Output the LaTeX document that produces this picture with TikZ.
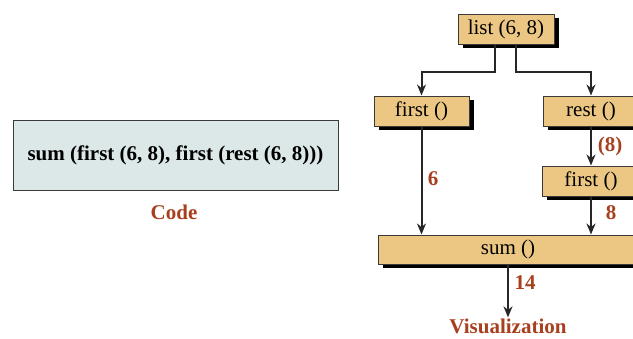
\documentclass[tikz,border=0pt]{standalone}
\usepackage{fontspec}
\setmainfont{Liberation Serif}
\usetikzlibrary{arrows.meta,shadows}
\definecolor{boxtan}{HTML}{EBC783}
\definecolor{codebg}{HTML}{DCE7E7}
\definecolor{lblred}{HTML}{A8401F}
\definecolor{edge}{HTML}{3A3A3A}
\begin{document}
\begin{tikzpicture}[x=1pt,y=-1pt,
  fn/.style={draw=edge, line width=1pt, fill=boxtan, minimum height=30pt,
    inner sep=0pt, font=\fontsize{21}{24}\selectfont,
    drop shadow={shadow xshift=4.5pt, shadow yshift=-4pt, fill=black, opacity=1}},
  arr/.style={line width=2pt, draw=black!85, -{Stealth[length=11pt,width=9pt]}},
  val/.style={text=lblred, font=\fontsize{21}{24}\selectfont\bfseries},
  caption/.style={text=lblred, font=\fontsize{21}{24}\selectfont\bfseries}]
\useasboundingbox (0,0) rectangle (633,338);

% code panel
\node[draw=edge, line width=1pt, fill=codebg, minimum width=325pt, minimum height=70pt,
  font=\fontsize{21}{24}\selectfont\bfseries] (code) at (175.5,155)
  {sum (first (6, 8), first (rest (6, 8)))};
\node[caption] (codecap) at (174,212) {Code};

% function boxes
\node[fn, minimum width=96pt] (list) at (506,29) {list (6, 8)};
\node[fn, minimum width=95pt] (f1) at (421.5,111) {first ()};
\node[fn, minimum width=96pt] (rest) at (591,111) {rest ()};
\node[fn, minimum width=98pt] (f2) at (591,181) {first ()};
\node[fn, minimum width=260pt, minimum height=29pt] (sum) at (508,249.5) {sum ()};
\node[caption, inner sep=1pt] (vis) at (508,326) {Visualization};

% connectors
\draw[arr] ([xshift=-11pt]list.south) -- ++(0,27) -| (f1.north);
\draw[arr] ([xshift=10pt]list.south) -- ++(0,27) -| (rest.north);
\draw[arr] (f1.south) -- (f1.south |- sum.north);
\draw[arr] (rest.south) -- (f2.north);
\draw[arr] (f2.south) -- (f2.south |- sum.north);
\draw[arr] (sum.south) -- (vis.north);

% values passed along
\node[val] (v6) at (433,179) {6};
\node[val] (v8a) at (610,146) {(8)};
\node[val] (v8b) at (611,213) {8};
\node[val] (v14) at (525,283) {14};
\end{tikzpicture}
\end{document}
